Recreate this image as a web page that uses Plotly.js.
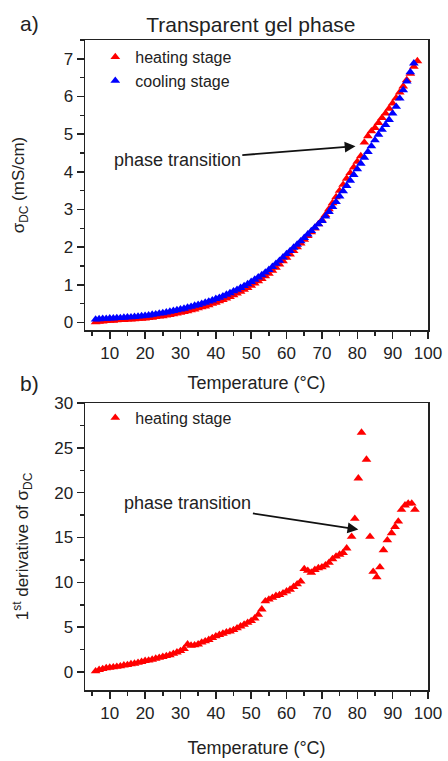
<!DOCTYPE html>
<html>
<head>
<meta charset="utf-8">
<script src="https://cdn.plot.ly/plotly-3.0.1.min.js"></script>
<style>html,body{margin:0;padding:0;background:#fff;}#chart{width:448px;height:761px;}</style>
</head>
<body>
<div id="chart"></div>
<script>
// ---- Panel a) DC conductivity (mS/cm) ----
var heatT = [6,7,8,9,10,11,12,13,14,15,16,17,18,19,20,21,22,23,24,25,26,27,28,29,30,31,32,33,34,35,36,37,38,39,40,41,42,43,44,45,46,47,48,49,50,51,52,53,54,55,56,57,58,59,60,61,62,63,64,65,66,67,68,69,70,71,72,73,74,75,76,77,78,79,80,81,82,83,84,85,86,87,88,89,90,91,92,93,94,95,96,97];
var heatSigma = [0.01,0.02,0.03,0.04,0.05,0.05,0.06,0.07,0.07,0.08,0.08,0.09,0.10,0.10,0.11,0.12,0.13,0.15,0.16,0.17,0.19,0.20,0.22,0.24,0.26,0.28,0.30,0.33,0.35,0.38,0.41,0.43,0.46,0.50,0.53,0.57,0.60,0.64,0.68,0.73,0.77,0.82,0.87,0.92,0.98,1.04,1.10,1.16,1.23,1.30,1.38,1.46,1.54,1.63,1.72,1.81,1.90,2.00,2.10,2.20,2.30,2.40,2.50,2.61,2.72,2.86,3.01,3.17,3.33,3.50,3.66,3.82,3.97,4.12,4.27,4.42,4.78,4.95,5.08,5.17,5.30,5.43,5.55,5.68,5.82,5.96,6.11,6.27,6.44,6.61,6.79,6.94];
var coolT = [6,7,8,9,10,11,12,13,14,15,16,17,18,19,20,21,22,23,24,25,26,27,28,29,30,31,32,33,34,35,36,37,38,39,40,41,42,43,44,45,46,47,48,49,50,51,52,53,54,55,56,57,58,59,60,61,62,63,64,65,66,67,68,69,70,71,72,73,74,75,76,77,78,79,80,81,82,83,84,85,86,87,88,89,90,91,92,93,94,95,96];
var coolSigma = [0.08,0.09,0.10,0.10,0.11,0.11,0.12,0.12,0.13,0.14,0.14,0.15,0.16,0.17,0.18,0.19,0.21,0.22,0.24,0.25,0.27,0.29,0.31,0.33,0.35,0.37,0.40,0.42,0.45,0.47,0.50,0.53,0.56,0.59,0.63,0.66,0.70,0.74,0.78,0.83,0.87,0.92,0.97,1.02,1.08,1.14,1.20,1.26,1.33,1.40,1.48,1.56,1.64,1.73,1.82,1.90,1.99,2.07,2.16,2.25,2.34,2.43,2.52,2.61,2.70,2.82,2.94,3.07,3.20,3.35,3.49,3.63,3.77,3.92,4.07,4.22,4.38,4.53,4.68,4.84,4.99,5.12,5.25,5.38,5.55,5.73,5.95,6.17,6.40,6.65,6.88];

// ---- Panel b) first derivative of sigma_DC (heating) ----
var derivT = [6,7,8,9,10,11,12,13,14,15,16,17,18,19,20,21,22,23,24,25,26,27,28,29,30,31,32,33,34,35,36,37,38,39,40,41,42,43,44,45,46,47,48,49,50,51,52,53,54,55,56,57,58,59,60,61,62,63,64,65,66,67,68,69,70,71,72,73,74,75,76,77,78.4,79.3,80.3,81.2,82.6,83.6,84.5,85.5,86.4,87.4,88.5,89.7,90.7,91.6,92.5,93.5,94.4,95.4,96.3];
var derivVal = [0.1,0.25,0.35,0.45,0.5,0.55,0.6,0.65,0.75,0.8,0.9,0.95,1.05,1.15,1.25,1.3,1.4,1.5,1.6,1.7,1.8,1.9,2.05,2.2,2.35,2.6,3.1,2.95,3.0,3.1,3.3,3.45,3.6,3.8,4.0,4.15,4.3,4.45,4.55,4.7,4.9,5.1,5.3,5.5,5.7,6.0,6.4,7.0,7.9,8.1,8.3,8.5,8.6,8.8,9.0,9.2,9.5,9.8,10.1,11.5,11.3,11.1,11.4,11.6,11.7,11.9,12.2,12.6,12.9,13.1,13.3,13.8,15.1,17.1,21.6,26.7,23.7,15.1,11.2,10.6,11.7,13.6,14.7,15.5,16.2,16.8,18.1,18.6,18.8,18.8,18.1];

var xTickLabels = ['10','20','30','40','50','60','70','80','90','100'];

var FONT = 'Arial, "Liberation Sans", sans-serif';
var RED = '#ff0000', BLUE = '#0000ff';
var MS = 8.5;

var traces = [
  {x: heatT, y: heatSigma, type: 'scatter', mode: 'markers', name: 'heating stage',
   marker: {symbol: 'triangle-up', size: MS, color: RED}, xaxis: 'x', yaxis: 'y', legend: 'legend'},
  {x: coolT, y: coolSigma, type: 'scatter', mode: 'markers', name: 'cooling stage',
   marker: {symbol: 'triangle-up', size: MS, color: BLUE}, xaxis: 'x', yaxis: 'y', legend: 'legend'},
  {x: derivT, y: derivVal, type: 'scatter', mode: 'markers', name: 'heating stage',
   marker: {symbol: 'triangle-up', size: MS, color: RED}, xaxis: 'x2', yaxis: 'y2', legend: 'legend2'}
];

function xAxis(anchor, standoff) {
  return {
    anchor: anchor, domain: [0, 1], range: [3, 100],
    tickmode: 'array', tickvals: [10,20,30,40,50,60,70,80,90,100], ticktext: xTickLabels,
    ticks: 'outside', ticklen: 7, tickwidth: 1.5, tickcolor: '#222',
    minor: {dtick: 5, tick0: 0, ticks: 'outside', ticklen: 4, tickwidth: 1.5, tickcolor: '#222'},
    showline: true, mirror: true, linecolor: '#222', linewidth: 1.5,
    showgrid: false, zeroline: false,
    tickfont: {family: FONT, size: 17, color: '#222'},
    title: {text: 'Temperature (°C)', font: {family: FONT, size: 18, color: '#222'}, standoff: standoff}
  };
}
function yAxis(anchor, domain, range, dtick, minorDtick, title, standoff) {
  return {
    anchor: anchor, domain: domain, range: range, dtick: dtick, tick0: 0,
    ticks: 'outside', ticklen: 7, tickwidth: 1.5, tickcolor: '#222',
    minor: {dtick: minorDtick, tick0: 0, ticks: 'outside', ticklen: 4, tickwidth: 1.5, tickcolor: '#222'},
    showline: true, mirror: true, linecolor: '#222', linewidth: 1.5,
    showgrid: false, zeroline: false,
    tickfont: {family: FONT, size: 17, color: '#222'},
    title: {text: title, font: {family: FONT, size: 17, color: '#222'}, standoff: standoff}
  };
}

var layout = {
  width: 448, height: 761,
  margin: {l: 85, r: 20, t: 40, b: 71},
  paper_bgcolor: '#fff', plot_bgcolor: '#fff',
  font: {family: FONT, color: '#222'},
  title: {text: 'Transparent gel phase', font: {family: FONT, size: 21, color: '#222'},
          x: 0.56, xanchor: 'center', y: 0.968, yanchor: 'middle', xref: 'container', yref: 'container'},
  xaxis: xAxis('y', 14),
  yaxis: yAxis('x', [0.5538, 1], [-0.2, 7.5], 1, 0.5, 'σ<sub>DC</sub> (mS/cm)', 34),
  xaxis2: xAxis('y2', 19),
  yaxis2: yAxis('x2', [0, 0.4415], [-2, 30], 5, 2.5, '1<sup>st</sup> derivative of σ<sub>DC</sub>', 21),
  legend: {x: 0.03, y: 1.0, xanchor: 'left', yanchor: 'top', bgcolor: 'rgba(0,0,0,0)',
           font: {family: FONT, size: 16, color: '#222'}, tracegroupgap: 0},
  legend2: {x: 0.03, y: 0.445, xanchor: 'left', yanchor: 'top', bgcolor: 'rgba(0,0,0,0)',
           font: {family: FONT, size: 16, color: '#222'}},
  showlegend: true,
  annotations: [
    {text: 'a)', xref: 'paper', yref: 'paper', x: -0.163, y: 1.026, showarrow: false,
     font: {family: FONT, size: 21, color: '#222'}, xanchor: 'center', yanchor: 'middle'},
    {text: 'b)', xref: 'paper', yref: 'paper', x: -0.163, y: 0.472, showarrow: false,
     font: {family: FONT, size: 21, color: '#222'}, xanchor: 'center', yanchor: 'middle'},
    {text: 'phase transition', xref: 'x', yref: 'y', x: 79.5, y: 4.68, axref: 'x', ayref: 'y',
     ax: 29.1, ay: 4.31, showarrow: true, arrowhead: 2, arrowsize: 1.2, arrowwidth: 1.8,
     arrowcolor: '#111', font: {family: FONT, size: 18, color: '#222'}},
    {text: 'phase transition', xref: 'x2', yref: 'y2', x: 80.3, y: 15.9, axref: 'x2', ayref: 'y2',
     ax: 32.1, ay: 18.8, showarrow: true, arrowhead: 2, arrowsize: 1.2, arrowwidth: 1.8,
     arrowcolor: '#111', font: {family: FONT, size: 18, color: '#222'}}
  ]
};

Plotly.newPlot('chart', traces, layout, {displayModeBar: false, staticPlot: true});
</script>
</body>
</html>
